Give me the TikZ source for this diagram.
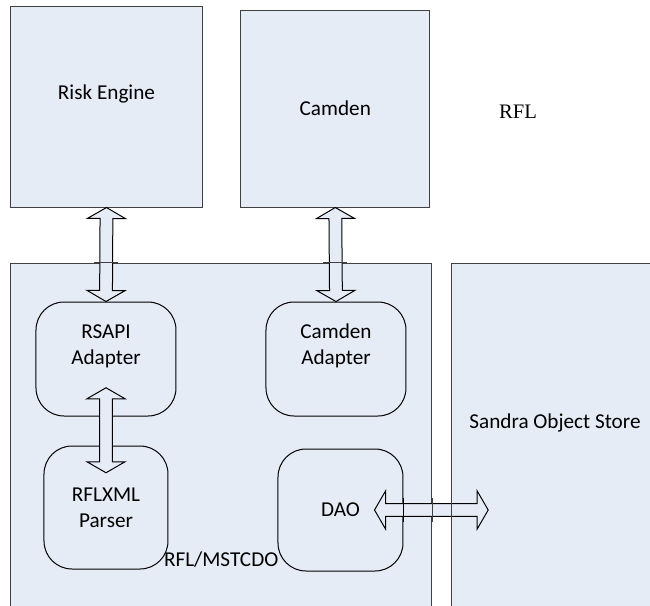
\documentclass[tikz,border=0pt]{standalone}
\usepackage{fontspec}
\setmainfont{Carlito}
\newfontfamily\rflfont{Liberation Serif}
\usetikzlibrary{calc}
\definecolor{boxblue}{RGB}{230,236,246}
\definecolor{boxline}{RGB}{64,64,64}

% hollow double arrow between two named points
\newcommand{\blockarrow}[2]{%
  \coordinate (ba-a) at ($(#1)!5.5pt!(#2)$);
  \coordinate (ba-b) at ($(#2)!5.5pt!(#1)$);
  \draw[link] (#1) -- ($(ba-a)!9.5pt!90:(#2)$) -- ($(ba-a)!3.2pt!90:(#2)$)
    -- ($(ba-b)!3.2pt!-90:(#1)$) -- ($(ba-b)!9.5pt!-90:(#1)$) -- (#2)
    -- ($(ba-b)!9.5pt!90:(#1)$) -- ($(ba-b)!3.2pt!90:(#1)$)
    -- ($(ba-a)!3.2pt!-90:(#2)$) -- ($(ba-a)!9.5pt!-90:(#2)$) -- cycle;
}

\begin{document}
\begin{tikzpicture}[x=0.5pt, y=-0.5pt, font=\fontsize{10.6}{13}\selectfont,
               system/.style ={rectangle, draw=boxline, fill=boxblue, line width=0.5pt, inner sep=0pt},
               module/.style ={rectangle, rounded corners=14pt, draw=black, fill=boxblue,
               line width=0.5pt, align=center, inner sep=0pt},
               link/.style ={draw=black, fill=boxblue, line width=0.5pt, line join=miter}]

           \clip (0,0) rectangle (650,606);

           %sistemas externos
           \node[system, minimum width=96pt, minimum height=100.5pt,
                 label={[yshift=6.5pt]center:Risk Engine}] (risk) at (106.5,106.5) {};
           \node[system, minimum width=94.7pt, minimum height=98.5pt] (camden) at (335.3,108.5) {Camden};
           \node[font=\rflfont\fontsize{10.3}{12}\selectfont] (rfl) at (518,112) {RFL};

           %grupo RFL/MSTCDO y almacen
           \node[system, minimum width=210.5pt, minimum height=188.5pt,
                 label={[yshift=-54.25pt]center:RFL/MSTCDO}] (rflbox) at (221.2,451.5) {};
           \node[system, minimum width=103.3pt, minimum height=188.5pt,
                 label={[yshift=14.25pt]center:Sandra Object Store}] (sandra) at (555,451.5) {};

           %modulos
           \node[module, minimum width=70pt, minimum height=57pt,
                 label={[yshift=6.5pt, align=center]center:RSAPI\\Adapter}] (rsapi) at (106,359) {};
           \node[module, minimum width=70pt, minimum height=57pt,
                 label={[yshift=6.5pt, align=center]center:Camden\\Adapter}] (cadapter) at (336,359) {};
           \node[module, minimum width=62pt, minimum height=61.5pt] (rflxml) at (106,507.5) {RFLXML\\Parser};
           \node[module, minimum width=62.5pt, minimum height=61pt] (dao) at (340.5,510) {DAO};

           \coordinate (rsapiport) at ($(rsapi.south)!0.25!(rsapi.north)$);
           \coordinate (rflxmlport) at ($(rflxml.north)!0.22!(rflxml.south)$);
           \coordinate (daoport) at ($(dao.center)!0.54!(dao.east)$);
           \coordinate (sandraport) at ($(daoport -| sandra.west)+(37,0)$);

           \blockarrow{risk.south}{rsapi.north}
           \blockarrow{camden.south}{cadapter.north}
           \blockarrow{daoport}{sandraport}

           %bordes por encima de las flechas
           \foreach \p in {rsapi.north, camden.south}
               \draw[boxline, line width=0.5pt] ($(\p |- rflbox.north)+(-12,0)$) -- ($(\p |- rflbox.north)+(12,0)$);
           \foreach \p in {rflbox.east, sandra.west}
               \draw[boxline, line width=0.5pt] ($(daoport -| \p)+(0,-12)$) -- ($(daoport -| \p)+(0,12)$);
           \draw[black, line width=0.5pt] ($(daoport -| dao.east)+(0,-12)$) -- ($(daoport -| dao.east)+(0,12)$);

           \blockarrow{rsapiport}{rflxmlport}

       \end{tikzpicture}
\end{document}
